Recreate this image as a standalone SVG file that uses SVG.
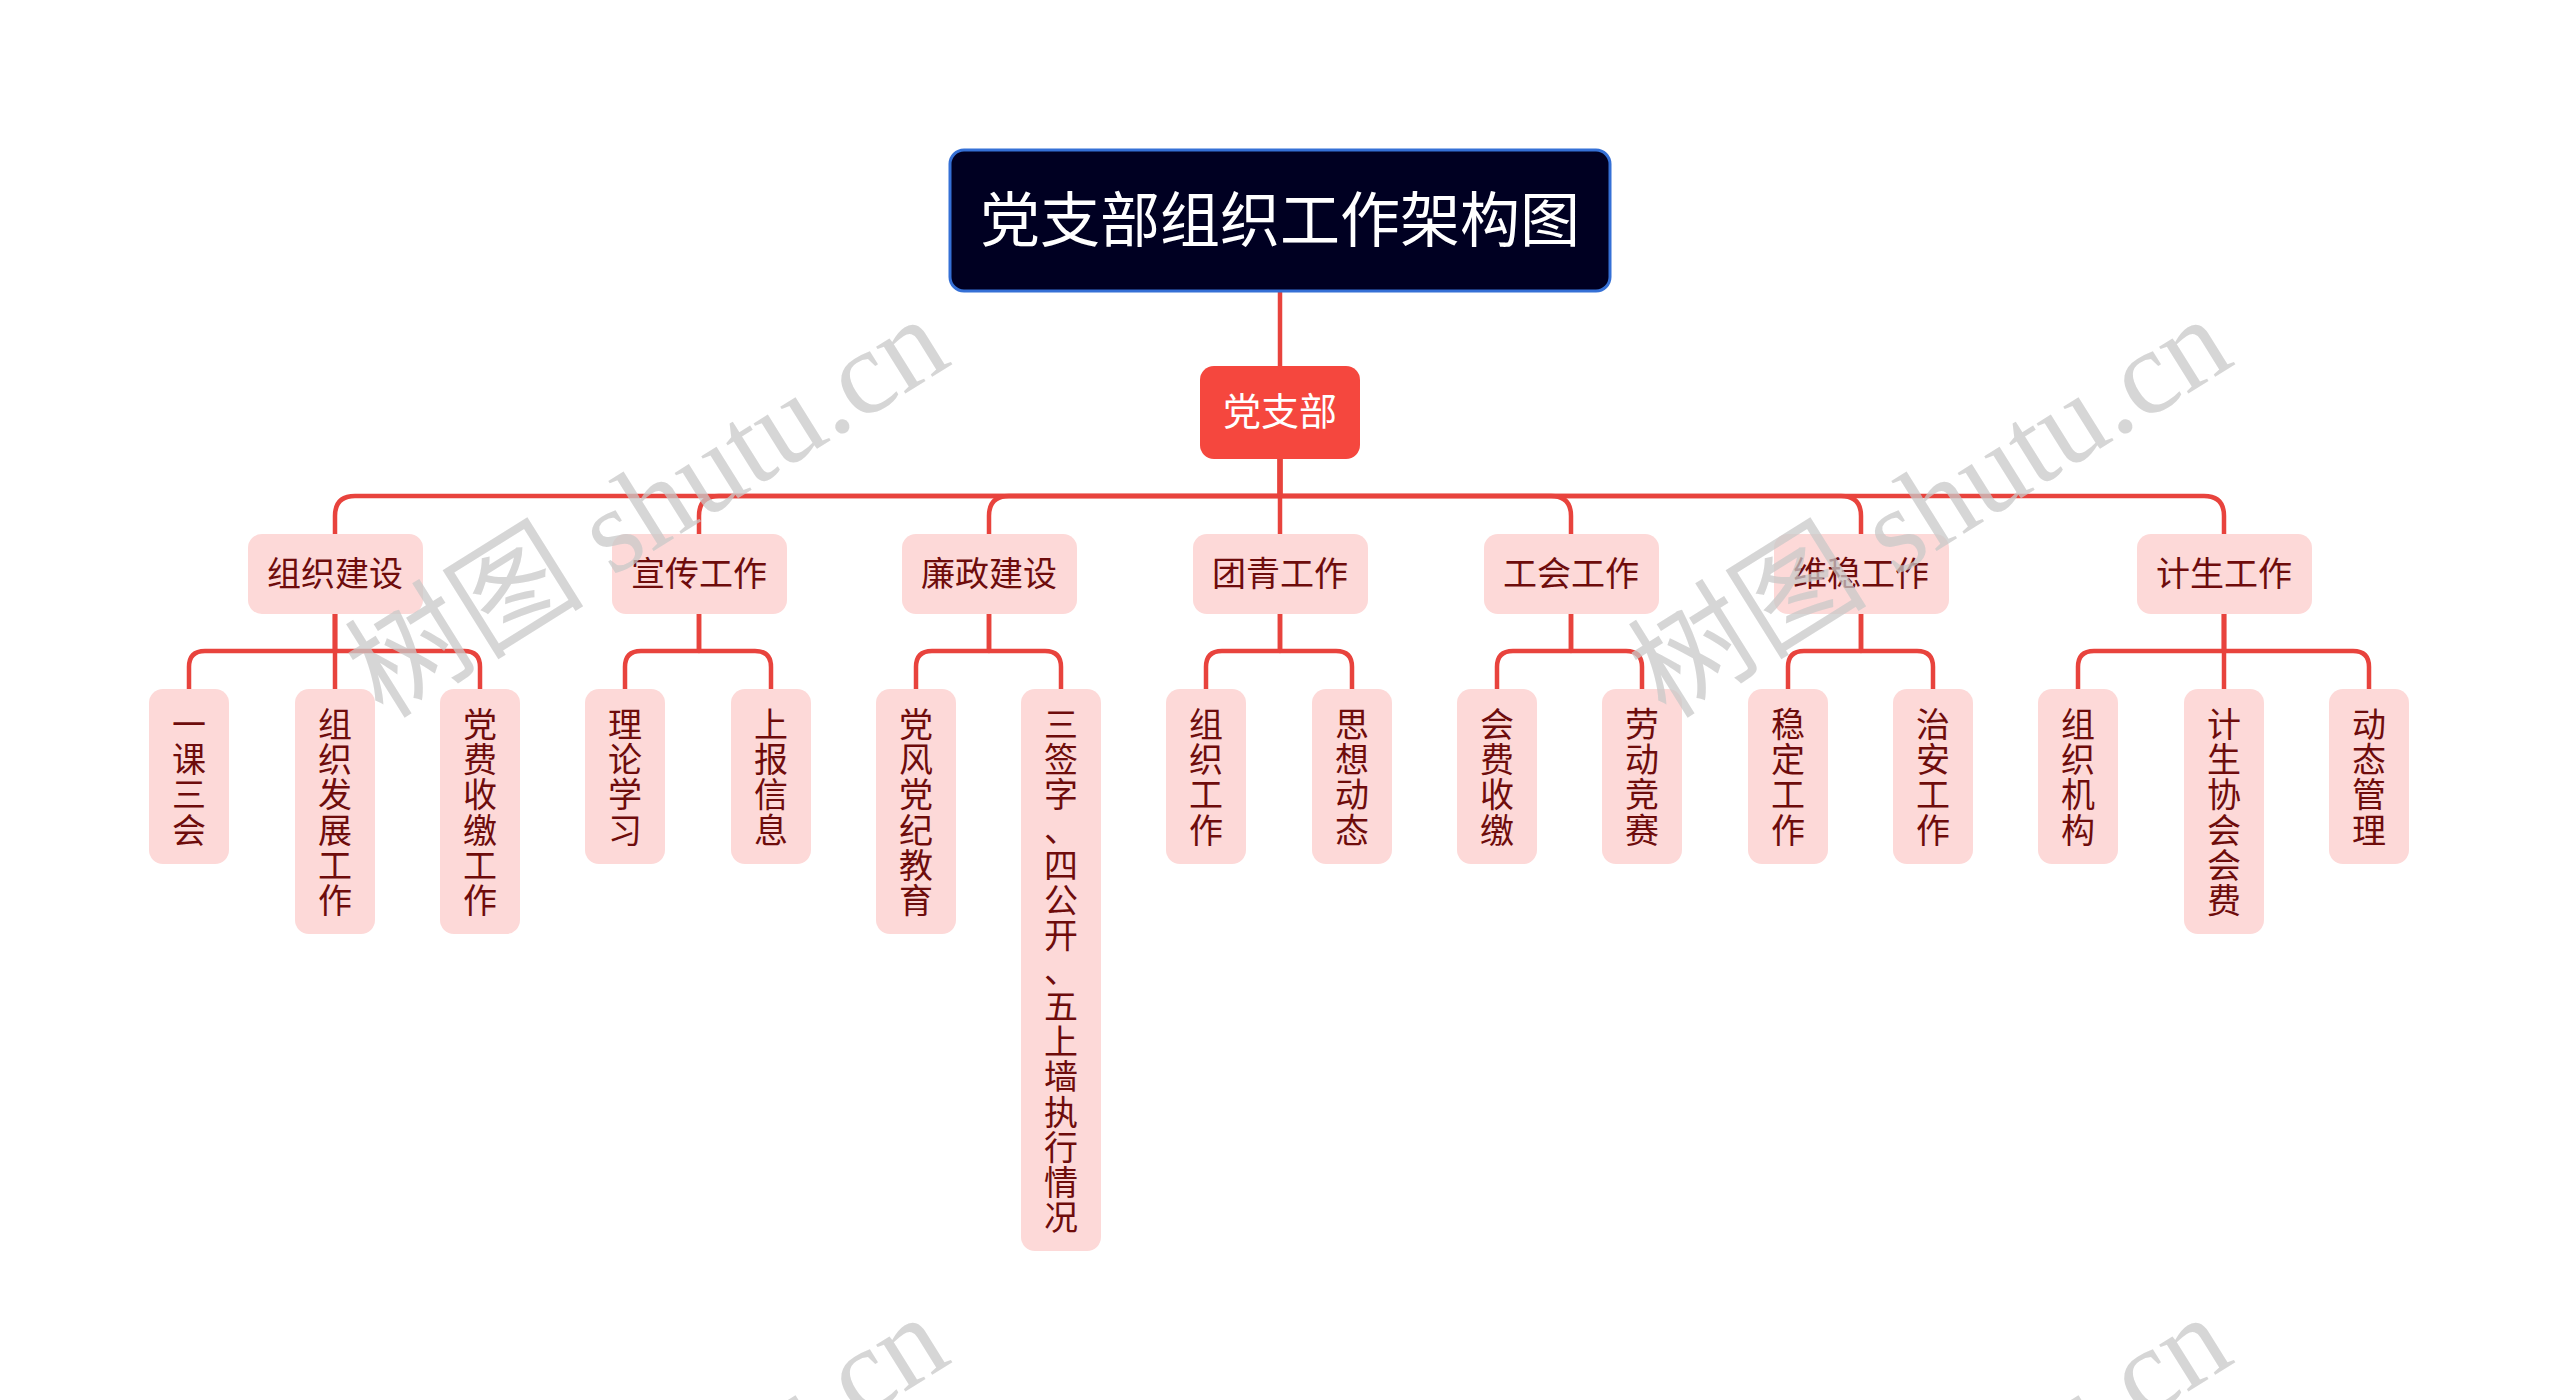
<svg xmlns="http://www.w3.org/2000/svg" width="2560" height="1400" viewBox="0 0 2560 1400">
<style>
.conn{fill:none;stroke:#e8433d;stroke-width:4.5;stroke-linejoin:round}
.l1 rect,.l2 rect{fill:#fdd9d8}
.t1{font-family:"Noto Sans CJK SC","Noto Sans",sans-serif;font-size:34px;fill:#6e0c0c;text-anchor:middle}
.t2{font-family:"Noto Sans CJK SC","Noto Sans",sans-serif;font-size:34px;fill:#6e0c0c;writing-mode:vertical-rl;text-orientation:upright;letter-spacing:1.2px}
.wm{font-size:120px;fill:#c8c8c8;fill-opacity:0.75}
</style>
<rect width="2560" height="1400" fill="#ffffff"/>

<g id="connectors">
<path class="conn" d="M1280 291 V366"/>
<path class="conn" d="M1280 459 V496 H355 Q335 496 335 516 V534"/>
<path class="conn" d="M1280 459 V496 H719 Q699 496 699 516 V534"/>
<path class="conn" d="M1280 459 V496 H1009 Q989 496 989 516 V534"/>
<path class="conn" d="M1280 459 V534"/>
<path class="conn" d="M1280 459 V496 H1551 Q1571 496 1571 516 V534"/>
<path class="conn" d="M1280 459 V496 H1841 Q1861 496 1861 516 V534"/>
<path class="conn" d="M1280 459 V496 H2204 Q2224 496 2224 516 V534"/>

<path class="conn" d="M335 614 V651 H205 Q189 651 189 667 V689"/>
<path class="conn" d="M335 614 V689"/>
<path class="conn" d="M335 614 V651 H464 Q480 651 480 667 V689"/>

<path class="conn" d="M699 614 V651 H641 Q625 651 625 667 V689"/>
<path class="conn" d="M699 614 V651 H755 Q771 651 771 667 V689"/>

<path class="conn" d="M989 614 V651 H932 Q916 651 916 667 V689"/>
<path class="conn" d="M989 614 V651 H1045 Q1061 651 1061 667 V689"/>

<path class="conn" d="M1280 614 V651 H1222 Q1206 651 1206 667 V689"/>
<path class="conn" d="M1280 614 V651 H1336 Q1352 651 1352 667 V689"/>

<path class="conn" d="M1571 614 V651 H1513 Q1497 651 1497 667 V689"/>
<path class="conn" d="M1571 614 V651 H1626 Q1642 651 1642 667 V689"/>

<path class="conn" d="M1861 614 V651 H1804 Q1788 651 1788 667 V689"/>
<path class="conn" d="M1861 614 V651 H1917 Q1933 651 1933 667 V689"/>

<path class="conn" d="M2224 614 V651 H2094 Q2078 651 2078 667 V689"/>
<path class="conn" d="M2224 614 V689"/>
<path class="conn" d="M2224 614 V651 H2353 Q2369 651 2369 667 V689"/>
</g>

<g id="title">
<rect x="950" y="150" width="660" height="141" rx="14" fill="#000022" stroke="#3570d6" stroke-width="3"/>
<text x="1280" y="242" font-family="'Noto Sans CJK SC','Noto Sans',sans-serif" font-size="60" fill="#ffffff" text-anchor="middle">党支部组织工作架构图</text>
</g>

<g id="root">
<rect x="1200" y="366" width="160" height="93" rx="14" fill="#f5473e"/>
<text x="1280" y="425" font-family="'Noto Sans CJK SC','Noto Sans',sans-serif" font-size="38" fill="#ffffff" text-anchor="middle">党支部</text>
</g>

<g id="n-zzjs" class="l1"><rect x="248" y="534" width="175" height="80" rx="14"/><text class="t1" x="335" y="586">组织建设</text></g>
<g id="n-xcgz" class="l1"><rect x="612" y="534" width="175" height="80" rx="14"/><text class="t1" x="699" y="586">宣传工作</text></g>
<g id="n-lzjs" class="l1"><rect x="902" y="534" width="175" height="80" rx="14"/><text class="t1" x="989" y="586">廉政建设</text></g>
<g id="n-tqgz" class="l1"><rect x="1193" y="534" width="175" height="80" rx="14"/><text class="t1" x="1280" y="586">团青工作</text></g>
<g id="n-ghgz" class="l1"><rect x="1484" y="534" width="175" height="80" rx="14"/><text class="t1" x="1571" y="586">工会工作</text></g>
<g id="n-wwgz" class="l1"><rect x="1774" y="534" width="175" height="80" rx="14"/><text class="t1" x="1861" y="586">维稳工作</text></g>
<g id="n-jsgz" class="l1"><rect x="2137" y="534" width="175" height="80" rx="14"/><text class="t1" x="2224" y="586">计生工作</text></g>

<g id="n-ykshy" class="l2"><rect x="149" y="689" width="80" height="175" rx="14"/><text class="t2" x="189" y="707">一课三会</text></g>
<g id="n-zzfzgz" class="l2"><rect x="295" y="689" width="80" height="245" rx="14"/><text class="t2" x="335" y="707">组织发展工作</text></g>
<g id="n-dfsjgz" class="l2"><rect x="440" y="689" width="80" height="245" rx="14"/><text class="t2" x="480" y="707">党费收缴工作</text></g>
<g id="n-llxx" class="l2"><rect x="585" y="689" width="80" height="175" rx="14"/><text class="t2" x="625" y="707">理论学习</text></g>
<g id="n-sbxx" class="l2"><rect x="731" y="689" width="80" height="175" rx="14"/><text class="t2" x="771" y="707">上报信息</text></g>
<g id="n-dfdjjy" class="l2"><rect x="876" y="689" width="80" height="245" rx="14"/><text class="t2" x="916" y="707">党风党纪教育</text></g>
<g id="n-sqz" class="l2"><rect x="1021" y="689" width="80" height="562" rx="14"/>
<text class="t2" x="1061" y="707">三签字</text>
<text class="t1" x="1061" y="842">、</text>
<text class="t2" x="1061" y="848">四公开</text>
<text class="t1" x="1061" y="983">、</text>
<text class="t2" x="1061" y="989">五上墙执行情况</text>
</g>
<g id="n-zzgz" class="l2"><rect x="1166" y="689" width="80" height="175" rx="14"/><text class="t2" x="1206" y="707">组织工作</text></g>
<g id="n-sxdt" class="l2"><rect x="1312" y="689" width="80" height="175" rx="14"/><text class="t2" x="1352" y="707">思想动态</text></g>
<g id="n-hfsj" class="l2"><rect x="1457" y="689" width="80" height="175" rx="14"/><text class="t2" x="1497" y="707">会费收缴</text></g>
<g id="n-ldjs" class="l2"><rect x="1602" y="689" width="80" height="175" rx="14"/><text class="t2" x="1642" y="707">劳动竞赛</text></g>
<g id="n-wdgz" class="l2"><rect x="1748" y="689" width="80" height="175" rx="14"/><text class="t2" x="1788" y="707">稳定工作</text></g>
<g id="n-zagz" class="l2"><rect x="1893" y="689" width="80" height="175" rx="14"/><text class="t2" x="1933" y="707">治安工作</text></g>
<g id="n-zzjg" class="l2"><rect x="2038" y="689" width="80" height="175" rx="14"/><text class="t2" x="2078" y="707">组织机构</text></g>
<g id="n-jsxhhf" class="l2"><rect x="2184" y="689" width="80" height="245" rx="14"/><text class="t2" x="2224" y="707">计生协会会费</text></g>
<g id="n-dtgl" class="l2"><rect x="2329" y="689" width="80" height="175" rx="14"/><text class="t2" x="2369" y="707">动态管理</text></g>

<g id="watermarks" class="wm">
<text transform="translate(383 720) rotate(-32)"><tspan font-family="'Noto Sans CJK SC',sans-serif">树图</tspan><tspan font-family="'Liberation Serif',serif"> shutu.cn</tspan></text>
<text transform="translate(1666 720) rotate(-32)"><tspan font-family="'Noto Sans CJK SC',sans-serif">树图</tspan><tspan font-family="'Liberation Serif',serif"> shutu.cn</tspan></text>
<text transform="translate(383 1718) rotate(-32)"><tspan font-family="'Noto Sans CJK SC',sans-serif">树图</tspan><tspan font-family="'Liberation Serif',serif"> shutu.cn</tspan></text>
<text transform="translate(1666 1718) rotate(-32)"><tspan font-family="'Noto Sans CJK SC',sans-serif">树图</tspan><tspan font-family="'Liberation Serif',serif"> shutu.cn</tspan></text>
</g>
</svg>
